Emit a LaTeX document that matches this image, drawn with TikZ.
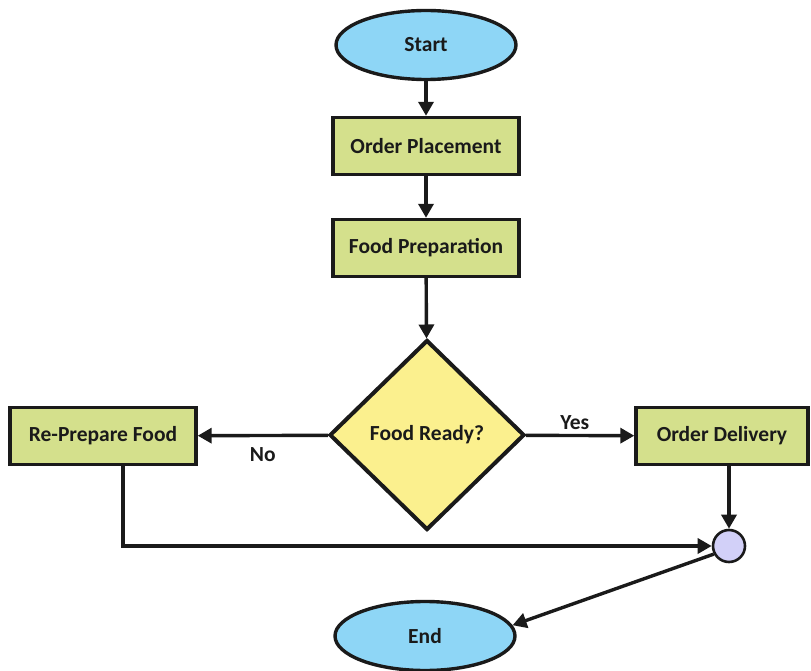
\documentclass[tikz,border=0pt]{standalone}
\usepackage{fontspec}
\setmainfont{Carlito}
\usetikzlibrary{shapes.geometric,arrows.meta}
\definecolor{termfill}{HTML}{8ED6F6}
\definecolor{procfill}{HTML}{D4E08C}
\definecolor{decfill}{HTML}{FBF08E}
\definecolor{joinfill}{HTML}{D2D0F8}
\definecolor{ink}{HTML}{1A1A1A}
\tikzset{
  every node/.style={font=\bfseries\fontsize{21.5}{24}\selectfont, text=ink},
  terminal/.style={ellipse, draw=ink, line width=3.4pt, fill=termfill,
    minimum width=180pt, minimum height=69pt, inner sep=0pt},
  process/.style={rectangle, draw=ink, line width=3.4pt, fill=procfill,
    minimum width=186pt, minimum height=57pt, inner sep=0pt},
  decision/.style={diamond, draw=ink, line width=4pt, fill=decfill,
    minimum width=195pt, minimum height=190pt, inner sep=0pt},
  junction/.style={circle, draw=ink, line width=2.6pt, fill=joinfill,
    minimum size=32pt, inner sep=0pt},
  flow/.style={draw=ink, line width=3.4pt, -{Triangle[length=14pt,width=15pt]}},
  edgelabel/.style={font=\bfseries\fontsize{21.5}{24}\selectfont, text=ink}
}
\begin{document}
\begin{tikzpicture}[x=1pt,y=-1pt]
  \useasboundingbox (0,0) rectangle (811,671);
  \node[terminal] (start) at (426,45) {Start};
  \node[process]  (order) at (426,146) {Order Placement};
  \node[process]  (prep)  at (426,248) {Food Preparation};
  \node[decision] (ready) at (427,435) {Food Ready?};
  \node[process]  (redo)  at (103,436) {Re-Prepare Food};
  \node[process, minimum width=172pt] (deliver) at (722,436) {Order Delivery};
  \node[junction] (join)  at (729,546) {};
  \node[terminal] (end)   at (425,636) {End};

  \draw[flow] (start) -- (order);
  \draw[flow] (order) -- (prep);
  \draw[flow] (prep) -- (ready);
  \draw[flow] (ready) -- node[edgelabel, below=7pt] {No} (redo);
  \draw[flow] (ready) -- node[edgelabel, above=1pt, pos=0.45] {Yes} (deliver);
  \draw[flow] (deliver.south -| join) -- (join);
  \draw[flow] ([xshift=20pt]redo.south) |- (join.west);
  \draw[flow] (join.208) -- (end.7);
\end{tikzpicture}
\end{document}
